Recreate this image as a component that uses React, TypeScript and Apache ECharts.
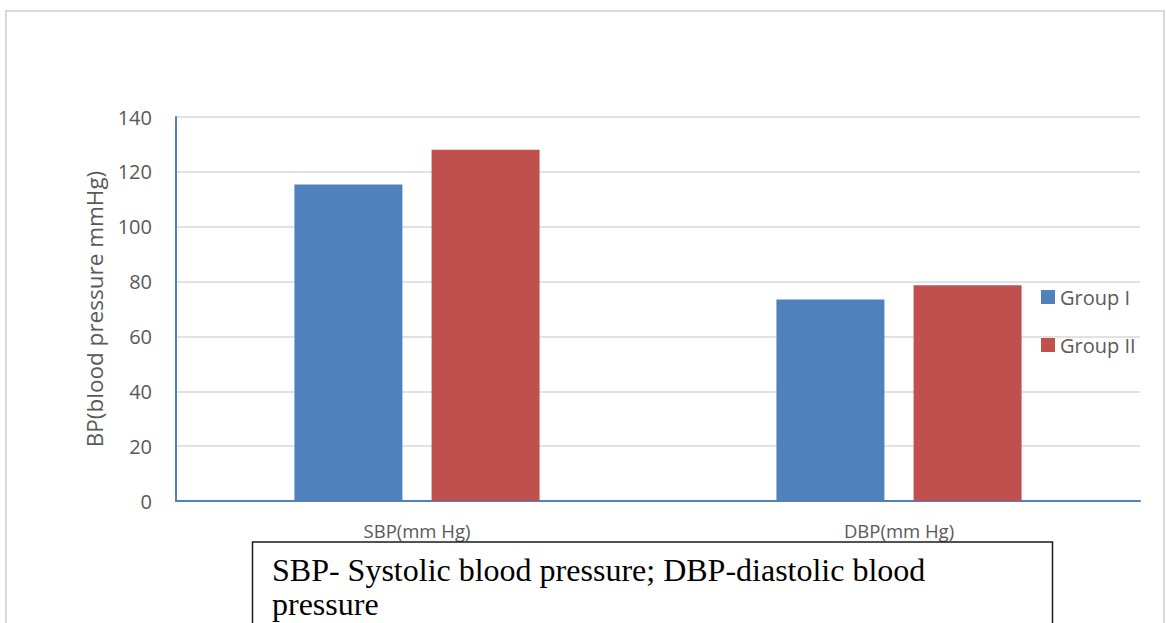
import React, { useEffect, useRef } from "react";
import * as echarts from "echarts";

const categories = ["SBP(mm Hg)", "DBP(mm Hg)"];
const groupI = [115.4, 73.5];
const groupII = [128.1, 78.7];
const seriesNames = ["Group I", "Group II"];
const yTicks = { min: 0, max: 140, interval: 20 };
const yAxisTitle = "BP(blood pressure mmHg)";
const noteLines = ["SBP- Systolic blood pressure; DBP-diastolic blood", "pressure"];

export default function App() {
  const ref = useRef<HTMLDivElement>(null);
  useEffect(() => {
    if (!ref.current) return;
    const chart = echarts.init(ref.current, undefined, { renderer: "svg" });
    const font = "'Open Sans', 'Noto Sans', sans-serif";
    chart.setOption({
      animation: false,
      backgroundColor: "#ffffff",
      grid: { left: 176, top: 117, width: 964, height: 384, containLabel: false },
      legend: {
        orient: "vertical",
        left: 1036,
        top: 281,
        itemWidth: 14,
        itemHeight: 14,
        itemGap: 26,
        icon: "rect",
        textStyle: { fontFamily: font, fontSize: 20, color: "#595959", lineHeight: 22 },
        data: seriesNames,
      },
      xAxis: {
        type: "category",
        data: categories,
        axisLine: { lineStyle: { color: "#4f81bd", width: 2 } },
        axisTick: { show: false },
        axisLabel: { fontFamily: font, fontSize: 18.5, color: "#595959", margin: 20 },
      },
      yAxis: {
        type: "value",
        min: yTicks.min,
        max: yTicks.max,
        interval: yTicks.interval,
        name: yAxisTitle,
        nameLocation: "middle",
        nameGap: 70,
        nameTextStyle: { fontFamily: font, fontSize: 22.5, color: "#595959" },
        axisLine: { show: true, lineStyle: { color: "#4f81bd", width: 2 } },
        axisTick: { show: false },
        splitLine: { lineStyle: { color: "#d9d9d9", width: 1.5 } },
        axisLabel: { fontFamily: font, fontSize: 20, color: "#595959", margin: 24 },
      },
      series: [
        {
          name: seriesNames[0],
          type: "bar",
          data: groupI,
          barWidth: 108,
          barGap: "27%",
          itemStyle: { color: "#4f81bd" },
        },
        {
          name: seriesNames[1],
          type: "bar",
          data: groupII,
          barWidth: 108,
          itemStyle: { color: "#c0504d" },
        },
      ],
      graphic: [
        {
          type: "rect",
          z: 100,
          shape: { x: 6, y: 11, width: 1158, height: 640 },
          style: { fill: "none", stroke: "#d9d9d9", lineWidth: 2 },
          silent: true,
        },
        {
          type: "rect",
          z: 100,
          shape: { x: 252.5, y: 542, width: 800, height: 120 },
          style: { fill: "#ffffff", stroke: "#1a1a1a", lineWidth: 1.5 },
          silent: true,
        },
        {
          type: "text",
          z: 101,
          left: 272,
          top: 553,
          style: {
            text: noteLines.join("\n"),
            fontFamily: "'Liberation Serif', 'Times New Roman', serif",
            fontSize: 32,
            lineHeight: 34,
            fill: "#000000",
          },
          silent: true,
        },
      ],
    });
    return () => chart.dispose();
  }, []);
  return (
    <div
      ref={ref}
      style={{ position: "absolute", left: 0, top: 0, width: 1166, height: 623 }}
    />
  );
}
